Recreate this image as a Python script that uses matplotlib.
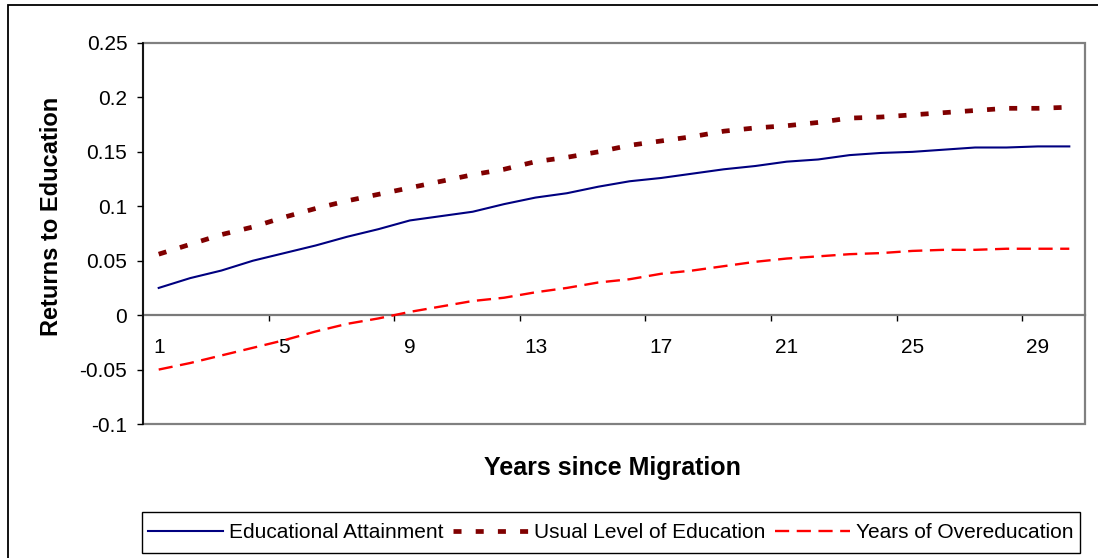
import matplotlib
matplotlib.use("Agg")
import matplotlib.pyplot as plt
from matplotlib.patches import Rectangle
from matplotlib.ticker import FixedLocator, NullFormatter

plt.rcParams['font.family'] = ['Liberation Sans', 'DejaVu Sans']

years = list(range(1, 31))
educ_attainment = [0.025, 0.034, 0.041, 0.050, 0.057, 0.064, 0.072, 0.079, 0.087, 0.091,
                   0.095, 0.102, 0.108, 0.112, 0.118, 0.123, 0.126, 0.130, 0.134, 0.137,
                   0.141, 0.143, 0.147, 0.149, 0.150, 0.152, 0.154, 0.154, 0.155, 0.155]
usual_level = [0.056, 0.065, 0.074, 0.081, 0.090, 0.098, 0.105, 0.111, 0.117, 0.123,
               0.129, 0.134, 0.141, 0.145, 0.150, 0.156, 0.160, 0.164, 0.169, 0.172,
               0.174, 0.177, 0.181, 0.182, 0.184, 0.186, 0.188, 0.190, 0.190, 0.191]
overeducation = [-0.050, -0.044, -0.037, -0.030, -0.023, -0.015, -0.008, -0.003, 0.003, 0.008,
                 0.013, 0.016, 0.021, 0.025, 0.030, 0.033, 0.038, 0.041, 0.045, 0.049,
                 0.052, 0.054, 0.056, 0.057, 0.059, 0.060, 0.060, 0.061, 0.061, 0.061]
series_names = ["Educational Attainment", "Usual Level of Education", "Years of Overeducation"]
y_ticks = [-0.1, -0.05, 0, 0.05, 0.1, 0.15, 0.2, 0.25]
y_tick_labels = ["-0.1", "-0.05", "0", "0.05", "0.1", "0.15", "0.2", "0.25"]
x_label_years = [1, 5, 9, 13, 17, 21, 25, 29]

W, H = 1098, 558
fig = plt.figure(figsize=(W / 100, H / 100), dpi=100)
fig.patch.set_facecolor('white')

# outer chart border (extends past right/bottom edges)
fig.add_artist(Rectangle((8 / W, -0.05), 1.2, 1 - 4.5 / H + 0.05, transform=fig.transFigure,
                         fill=False, edgecolor='black', linewidth=1.3))

L, R, T, B = 143, 1085, 43, 424
ax = fig.add_axes([L / W, 1 - B / H, (R - L) / W, (B - T) / H])
ax.set_xlim(0.5, len(years) + 0.5)
ax.set_ylim(-0.1, 0.25)

l1, = ax.plot(years, educ_attainment, color='#000080', lw=1.5, label=series_names[0], zorder=3)
l2, = ax.plot(years, usual_level, color='#800000', lw=3.4, linestyle=(0, (1.7, 3.0)),
              dash_capstyle='butt', label=series_names[1], zorder=3)
l3, = ax.plot(years, overeducation, color='#FF0000', lw=1.7, linestyle=(0, (6.0, 3.2)),
              dash_capstyle='butt', label=series_names[2], zorder=3)

# plot area frame
for s in ['top', 'right']:
    ax.spines[s].set_visible(False)
ax.add_patch(Rectangle((0, 0), 1, 1, transform=ax.transAxes, fill=False,
                       edgecolor='#808080', linewidth=1.6, clip_on=False, zorder=1))
ax.spines['left'].set_color('black')
ax.spines['left'].set_linewidth(1.2)
ax.spines['left'].set_zorder(4)
ax.spines['bottom'].set_position(('data', 0))
ax.spines['bottom'].set_color('#7a7a7a')
ax.spines['bottom'].set_linewidth(1.6)

# y ticks
ax.set_yticks(y_ticks)
ax.set_yticklabels(y_tick_labels)
ax.tick_params(axis='y', direction='out', length=4.3, width=1, color='black',
               labelsize=15, pad=7)

# x ticks: marks at category boundaries every 4, labels at category centres
boundaries = [x_label_years[i] + 3.5 for i in range(len(x_label_years) - 1)]
ax.xaxis.set_major_locator(FixedLocator(boundaries))
ax.xaxis.set_major_formatter(NullFormatter())
ax.xaxis.set_minor_locator(FixedLocator(x_label_years))
ax.set_xticklabels([str(v) for v in x_label_years], minor=True)
ax.tick_params(axis='x', which='major', direction='out', length=4.3, width=1, color='black')
ax.tick_params(axis='x', which='minor', length=0, labelsize=15, pad=16.5)

# axis titles
fig.text(58.5 / W, 1 - 216 / H, "Returns to Education", rotation=90, rotation_mode='anchor',
         ha='center', va='baseline', fontsize=17, fontweight='bold')
fig.text(612 / W, 1 - 475 / H, "Years since Migration", ha='center', va='baseline',
         fontsize=18, fontweight='bold')

# legend
fig.add_artist(Rectangle((142 / W, 1 - 553 / H), (1080 - 142) / W, 41 / H,
                         transform=fig.transFigure, fill=False, edgecolor='black', linewidth=1.0))
fig.legend(handles=[l1, l2, l3], loc='center', bbox_to_anchor=(611 / W, 1 - 532.5 / H),
           bbox_transform=fig.transFigure, ncol=3, frameon=False, fontsize=15,
           handlelength=3.6, handletextpad=0.3, columnspacing=0.45, borderpad=0)

fig.savefig('out.png', dpi=100, facecolor='white')
